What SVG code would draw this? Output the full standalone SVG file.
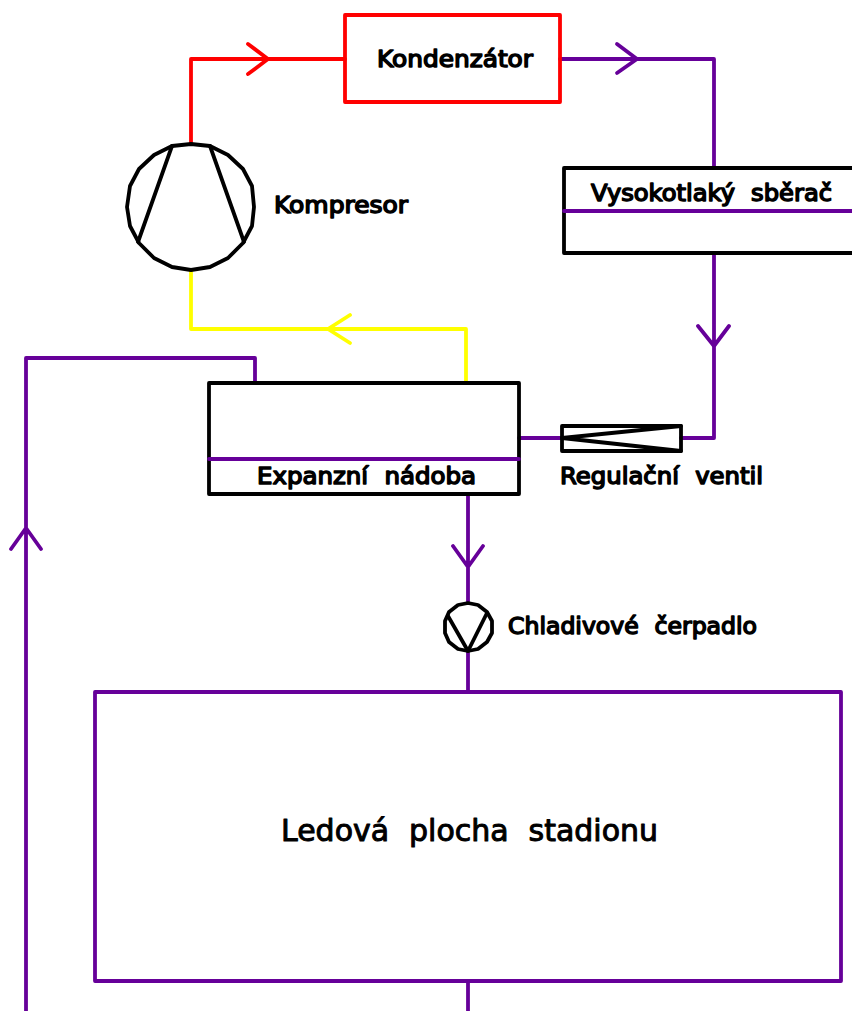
<svg xmlns="http://www.w3.org/2000/svg" width="852" height="1011" viewBox="0 0 852 1011">
<style>
.l{fill:none;stroke-width:3.8;stroke-linejoin:round;stroke-linecap:round}
.r{stroke:#ff0000}.p{stroke:#660099}.y{stroke:#ffff00}.k{stroke:#000}
text{font-family:"DejaVu Sans",Verdana,sans-serif;font-weight:normal;fill:#000;stroke:#000;stroke-width:1.5px;stroke-linejoin:round;font-size:23px;word-spacing:.35em}
</style>
<rect width="852" height="1011" fill="#fff"/>
<g id="connectors">
<path class="l r" d="M191 144V59H345M248 44L268 59L248 74"/>
<path class="l p" d="M560 59H714V168M617 44L637 59L617 73"/>
<path class="l p" d="M714 253V438H681M698 326L714 346L729 326"/>
<path class="l p" d="M562 438H519"/>
<path class="l y" d="M191 270V329H466V383M350 315L328 329L350 343"/>
<path class="l p" d="M255 383V358H26V1011M11 549L26 528L41 549"/>
<path class="l p" d="M468 494V603M453 546L468 567L483 546"/>
<path class="l p" d="M468 651V692"/>
<path class="l p" d="M468 981V1011"/>
</g>
<g id="kondenzator">
<rect class="l r" x="345" y="15" width="215" height="87"/>
<text x="377" y="67" textLength="156" lengthAdjust="spacingAndGlyphs">Kondenzátor</text>
</g>
<g id="kompresor">
<polygon class="l k" points="191,144 210,146 228,155 243,169 252,186 254,207 252,226 243,243 228,258 210,267 191,270 172,267 154,258 139,243 130,226 127,207 130,186 139,169 154,155 172,146"/>
<path class="l k" d="M172 146L138 242M210 146L244 242"/>
<text x="274" y="213" textLength="134" lengthAdjust="spacingAndGlyphs">Kompresor</text>
</g>
<g id="sberac">
<path class="l k" d="M852 168H564V253H852"/>
<path class="l p" d="M564 211H852"/>
<text x="591" y="201" textLength="241" lengthAdjust="spacingAndGlyphs">Vysokotlaký sběrač</text>
</g>
<g id="ventil">
<rect class="l k" x="562" y="426" width="119" height="25"/>
<path class="l k" d="M681 426L562 438L681 451"/>
<text x="560" y="484" textLength="203" lengthAdjust="spacingAndGlyphs">Regulační ventil</text>
</g>
<g id="expanzni">
<rect class="l k" x="209" y="383" width="310" height="111"/>
<path class="l p" d="M209 459H519"/>
<text x="257" y="484" textLength="219" lengthAdjust="spacingAndGlyphs">Expanzní nádoba</text>
</g>
<g id="cerpadlo">
<polygon class="l k" points="468,603 478,605 487,612 492,621 492,633 487,642 478,649 468,651 458,649 449,642 445,633 445,621 449,612 458,605"/>
<path class="l k" d="M448 616L468 651L487 613"/>
<text x="508" y="634" textLength="249" lengthAdjust="spacingAndGlyphs">Chladivové čerpadlo</text>
</g>
<g id="plocha">
<rect class="l p" x="95" y="692" width="746" height="289"/>
<text x="281" y="841" style="font-size:30px;stroke-width:1px" textLength="377" lengthAdjust="spacingAndGlyphs">Ledová plocha stadionu</text>
</g>
</svg>
